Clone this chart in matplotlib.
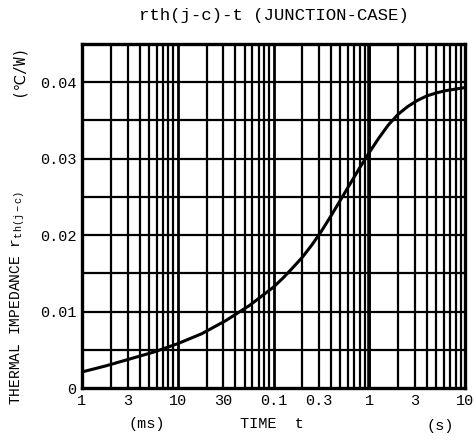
import matplotlib.pyplot as plt
import numpy as np

# Data (time in s, rth in degC/W)
t = [0.001, 0.00178, 0.00316, 0.00562, 0.01, 0.0178, 0.0316, 0.0562,
     0.1, 0.126, 0.158, 0.2, 0.251, 0.316, 0.398, 0.501, 0.631, 0.794,
     1, 1.26, 1.58, 2, 2.51, 3.16, 3.98, 5.01, 6.31, 7.94, 10]
rth = [0.0021, 0.0029, 0.0038, 0.0047, 0.0058, 0.0071, 0.0088, 0.0108,
       0.0132, 0.0144, 0.0157, 0.0171, 0.0187, 0.0205, 0.0225, 0.0246,
       0.0267, 0.0288, 0.0308, 0.0327, 0.0344, 0.0358, 0.0368, 0.0376,
       0.0382, 0.0386, 0.0389, 0.0391, 0.0393]

xticks = [0.001, 0.003, 0.01, 0.03, 0.1, 0.3, 1, 3, 10]
xticklabels = ['1', '3', '10', '30', '0.1', '0.3', '1', '3', '10']
yticks = [0, 0.01, 0.02, 0.03, 0.04]
yticklabels = ['0', '0.01', '0.02', '0.03', '0.04']

plt.rcParams['font.family'] = ['Liberation Mono', 'DejaVu Sans']
plt.rcParams['mathtext.fontset'] = 'custom'
plt.rcParams['mathtext.rm'] = 'Liberation Mono'

fig = plt.figure(figsize=(4.76, 4.40), dpi=100)
ax = fig.add_axes([82 / 476, 1 - 388 / 440, 383 / 476, 344 / 440])

ax.plot(t, rth, color='black', lw=2.2, zorder=3)

ax.set_xscale('log')
ax.set_xlim(0.001, 10)
ax.set_ylim(0, 0.045)

# grid
for dec in [0.001, 0.01, 0.1, 1]:
    for k in range(1, 10):
        ax.axvline(dec * k, color='black', lw=1.6 if k > 1 else 2.0, zorder=1)
ax.axvline(1, color='black', lw=2.6, zorder=1)
for yv in np.arange(0.005, 0.045, 0.005):
    ax.axhline(yv, color='black', lw=1.6, zorder=1)

for s in ax.spines.values():
    s.set_linewidth(2.4)

ax.set_xticks(xticks)
ax.set_xticklabels(xticklabels)
ax.xaxis.set_minor_locator(plt.NullLocator())
ax.set_yticks(yticks)
ax.set_yticklabels(yticklabels)
ax.tick_params(length=0, labelsize=11, pad=4)

fig.text(0.575, 0.965, 'rth(j-c)-t (JUNCTION-CASE)', ha='center', va='center', fontsize=12.5)
fig.text(147 / 476, 1 - 424 / 440, '(ms)', ha='center', va='center', fontsize=11)
fig.text(272 / 476, 1 - 424 / 440, 'TIME  t', ha='center', va='center', fontsize=11)
fig.text(440 / 476, 1 - 426 / 440, '(s)', ha='center', va='center', fontsize=11)
fig.text(18 / 476, 1 - 405 / 440, 'THERMAL IMPEDANCE r$_{\\mathrm{th(j-c)}}$',
         rotation=90, ha='center', va='bottom', fontsize=10.5)
fig.text(18 / 476, 1 - 45 / 440, '(℃/W)', rotation=90, ha='center', va='top',
         fontsize=10.5, family=['DejaVu Sans Mono', 'DejaVu Sans'])

fig.savefig('out.png', dpi=100)
